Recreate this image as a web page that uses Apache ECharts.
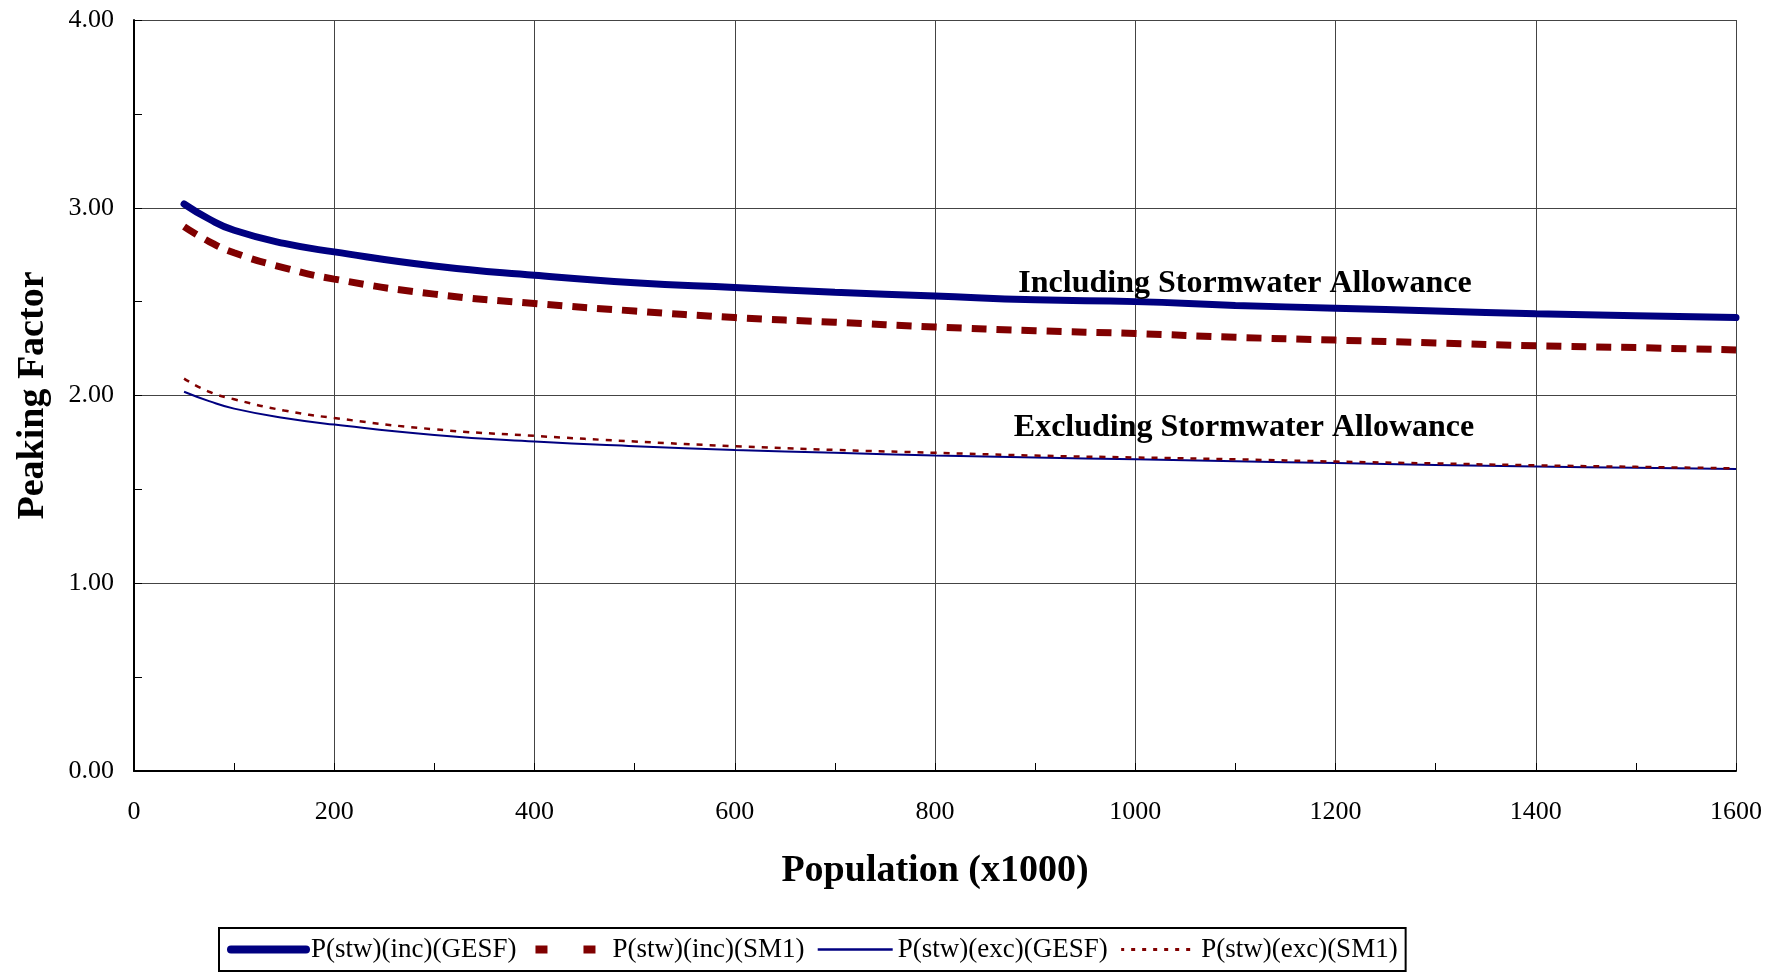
<!DOCTYPE html>
<html>
<head>
<meta charset="utf-8">
<script src="https://cdn.jsdelivr.net/npm/echarts@6/dist/echarts.min.js"></script>
<style>
  html, body { margin: 0; padding: 0; background: #fff; }
  #main { width: 1780px; height: 973px; }
</style>
</head>
<body>
<div id="main"></div>
<script>
// population (x1000)
var population = [50, 75, 100, 150, 200, 300, 400, 500, 600, 700, 800, 900, 1000, 1100, 1200, 1300, 1400, 1500, 1600];
var incGESF = [3.02, 2.94, 2.88, 2.81, 2.765, 2.69, 2.64, 2.60, 2.575, 2.55, 2.53, 2.51, 2.50, 2.48, 2.465, 2.45, 2.435, 2.425, 2.415];
var incSM1  = [2.90, 2.82, 2.76, 2.68, 2.62, 2.54, 2.49, 2.45, 2.415, 2.39, 2.365, 2.345, 2.33, 2.31, 2.295, 2.28, 2.265, 2.255, 2.243];
var excGESF = [2.02, 1.97, 1.93, 1.88, 1.845, 1.79, 1.755, 1.73, 1.71, 1.695, 1.68, 1.67, 1.66, 1.65, 1.64, 1.63, 1.622, 1.615, 1.608];
var excSM1  = [2.09, 2.02, 1.98, 1.92, 1.88, 1.82, 1.785, 1.755, 1.73, 1.71, 1.695, 1.68, 1.67, 1.66, 1.648, 1.638, 1.628, 1.62, 1.612];
var seriesNames = ["P(stw)(inc)(GESF)", "P(stw)(inc)(SM1)", "P(stw)(exc)(GESF)", "P(stw)(exc)(SM1)"];

function pairs(vals) {
  return population.map(function (p, i) { return [p, vals[i]]; });
}

var FONT = '"Liberation Serif", "Times New Roman", serif';
// hide the legend symbol, keep only the line
var noSymbol = { opacity: 0, color: "rgba(0,0,0,0)", borderWidth: 0 };

var chart = echarts.init(document.getElementById("main"));
chart.setOption({
  animation: false,
  grid: { left: 134, right: 44, top: 20, bottom: 202 },
  legend: {
    left: 219,
    top: 928,
    padding: [8, 8, 8, 8],
    borderColor: "#000",
    borderWidth: 2,
    itemWidth: 75,
    itemHeight: 14,
    itemGap: 12,
    textStyle: { fontFamily: FONT, fontSize: 27, color: "#000" },
    data: [
      { name: seriesNames[0], itemStyle: noSymbol, lineStyle: { width: 8, cap: "round" } },
      { name: seriesNames[1], itemStyle: noSymbol, lineStyle: { width: 8, type: [12, 36], dashOffset: 45 } },
      { name: seriesNames[2], itemStyle: noSymbol, lineStyle: { width: 2.5 } },
      { name: seriesNames[3], itemStyle: noSymbol, lineStyle: { width: 3, type: [4, 7] } }
    ]
  },
  xAxis: {
    type: "value",
    min: 0,
    max: 1600,
    interval: 200,
    name: "Population (x1000)",
    nameLocation: "middle",
    nameGap: 81,
    nameTextStyle: { fontFamily: FONT, fontSize: 38, fontWeight: "bold", color: "#000" },
    axisLine: { lineStyle: { color: "#000", width: 2 } },
    axisTick: { inside: true, length: 8, lineStyle: { color: "#000" } },
    minorTick: { show: true, splitNumber: 2, length: 8, lineStyle: { color: "#000" } },
    axisLabel: {
      fontFamily: FONT, fontSize: 26, color: "#000", margin: 28,
      formatter: function (v) { return String(v); }
    },
    splitLine: { show: true, lineStyle: { color: "#444", width: 1 } }
  },
  yAxis: {
    type: "value",
    min: 0,
    max: 4,
    interval: 1,
    name: "Peaking Factor",
    nameLocation: "middle",
    nameGap: 82,
    nameTextStyle: { fontFamily: FONT, fontSize: 38, fontWeight: "bold", color: "#000" },
    axisLine: { show: true, lineStyle: { color: "#000", width: 2 } },
    axisTick: { show: true, inside: true, length: 8, lineStyle: { color: "#000" } },
    minorTick: { show: true, splitNumber: 2, length: 8, lineStyle: { color: "#000" } },
    axisLabel: {
      fontFamily: FONT, fontSize: 26, color: "#000", margin: 20,
      formatter: function (v) { return v.toFixed(2); }
    },
    splitLine: { show: true, lineStyle: { color: "#444", width: 1 } }
  },
  graphic: [
    {
      type: "text", x: 1245, y: 284, z: 100,
      style: { text: "Including Stormwater Allowance", font: 'bold 32px ' + FONT, fill: "#000", textAlign: "center", textVerticalAlign: "middle" }
    },
    {
      type: "text", x: 1244, y: 428, z: 100,
      style: { text: "Excluding Stormwater Allowance", font: 'bold 32px ' + FONT, fill: "#000", textAlign: "center", textVerticalAlign: "middle" }
    }
  ],
  series: [
    {
      name: seriesNames[0], type: "line", smooth: true, symbol: "none",
      data: pairs(incGESF),
      itemStyle: { color: "#000080" },
      lineStyle: { color: "#000080", width: 7, cap: "round" }
    },
    {
      name: seriesNames[1], type: "line", smooth: true, symbol: "none",
      data: pairs(incSM1),
      itemStyle: { color: "#800000" },
      lineStyle: { color: "#800000", width: 7, type: [15, 10] }
    },
    {
      name: seriesNames[2], type: "line", smooth: true, symbol: "none",
      data: pairs(excGESF),
      itemStyle: { color: "#000080" },
      lineStyle: { color: "#000080", width: 2 }
    },
    {
      name: seriesNames[3], type: "line", smooth: true, symbol: "none",
      data: pairs(excSM1),
      itemStyle: { color: "#800000" },
      lineStyle: { color: "#800000", width: 2.5, type: [6, 7] }
    }
  ]
});
</script>
</body>
</html>
